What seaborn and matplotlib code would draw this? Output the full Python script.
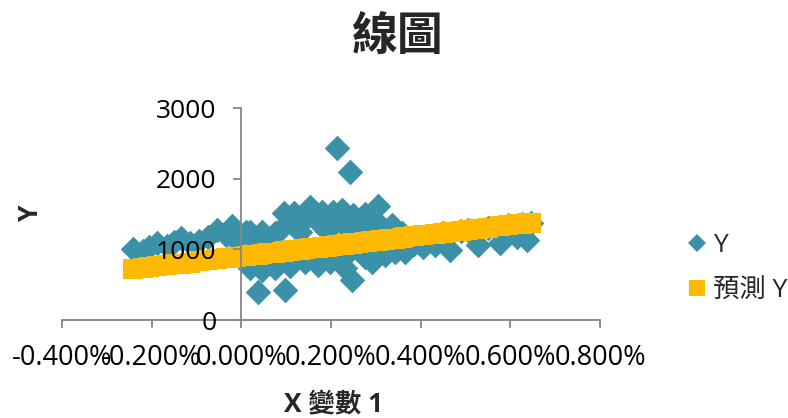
import matplotlib
matplotlib.use("Agg")
import matplotlib.pyplot as plt
import pandas as pd
import seaborn as sns
from matplotlib.lines import Line2D
from matplotlib.ticker import FixedLocator, PercentFormatter

# X variable 1 (in percent), observed Y and regression-predicted Y
x_pct = [
    -0.241, -0.220, -0.205, -0.187, -0.165, -0.150, -0.134, -0.115, -0.095, -0.075,
    -0.054, -0.035, -0.020, -0.011, 0.010, 0.011, 0.020, 0.020, 0.030, 0.038,
    0.047, 0.047, 0.060, 0.060, 0.074, 0.076, 0.090, 0.096, 0.098, 0.109,
    0.118, 0.120, 0.120, 0.130, 0.140, 0.143, 0.154, 0.170, 0.172, 0.180,
    0.181, 0.190, 0.198, 0.200, 0.205, 0.214, 0.221, 0.225, 0.230, 0.232,
    0.240, 0.243, 0.247, 0.250, 0.250, 0.260, 0.275, 0.276, 0.280, 0.290,
    0.292, 0.300, 0.305, 0.310, 0.321, 0.330, 0.337, 0.343, 0.359, 0.366,
    0.385, 0.406, 0.433, 0.450, 0.466, 0.490, 0.505, 0.528, 0.550, 0.577,
    0.595, 0.615, 0.625, 0.638, 0.645,
]
y_obs = [
    1004, 980, 1030, 1089, 1050, 1100, 1160, 1090, 1120, 1180,
    1273, 1200, 1329, 1131, 860, 1244, 1244, 735, 1130, 396,
    1244, 707, 1150, 820, 1230, 735, 1300, 1513, 424, 764,
    1513, 1350, 860, 1250, 1420, 820, 1598, 1380, 778, 900,
    1527, 1260, 820, 1400, 1527, 2430, 877, 1555, 1350, 735,
    960, 2090, 566, 1485, 1290, 1380, 1500, 891, 1300, 1450,
    820, 990, 1612, 1350, 919, 1250, 1343, 961, 1230, 961,
    1080, 1032, 1061, 1231, 990, 1260, 1271, 1061, 1304, 1089,
    1338, 1174, 1360, 1131, 1375,
]
y_pred = [
    720, 735, 747, 760, 776, 787, 799, 813, 828, 843,
    858, 872, 883, 890, 905, 906, 913, 913, 920, 926,
    933, 933, 942, 942, 953, 954, 965, 969, 970, 979,
    985, 987, 987, 994, 1001, 1004, 1012, 1024, 1025, 1031,
    1032, 1038, 1044, 1046, 1049, 1056, 1061, 1064, 1068, 1069,
    1075, 1078, 1081, 1083, 1083, 1090, 1101, 1102, 1105, 1112,
    1114, 1120, 1123, 1127, 1135, 1142, 1147, 1151, 1163, 1168,
    1183, 1198, 1218, 1231, 1242, 1260, 1271, 1288, 1304, 1324,
    1338, 1352, 1360, 1369, 1375,
]

x_ticks = [-0.4, -0.2, 0.0, 0.2, 0.4, 0.6, 0.8]
y_ticks = [0, 1000, 2000, 3000]

title = "線圖"
x_label = "X 變數 1"
y_label = "Y"
series_names = ["Y", "預測 Y"]

BLUE = "#3A91A8"
ORANGE = "#FFB900"
AXIS_GRAY = "#868686"

sns.set_theme(style="white")
plt.rcParams["font.family"] = ["Open Sans", "Noto Sans CJK TC", "DejaVu Sans"]
plt.rcParams["axes.unicode_minus"] = False

W, H = 788, 418
fig = plt.figure(figsize=(W / 100, H / 100), dpi=100)
ax = fig.add_axes([62 / W, 1 - 320 / H, (600 - 62) / W, (320 - 108) / H])

df = pd.DataFrame({"x": x_pct, "y": y_obs, "pred": y_pred})
sns.scatterplot(data=df, x="x", y="y", marker="D", s=170, color=BLUE,
                linewidth=0, ax=ax, zorder=1)
sns.scatterplot(data=df, x="x", y="pred", marker="s", s=200, color=ORANGE,
                linewidth=0, ax=ax, zorder=1.5)

ax.set_xlim(x_ticks[0], x_ticks[-1])
ax.set_ylim(y_ticks[0], y_ticks[-1])
ax.xaxis.set_major_locator(FixedLocator(x_ticks))
ax.yaxis.set_major_locator(FixedLocator(y_ticks))
ax.xaxis.set_major_formatter(PercentFormatter(xmax=100, decimals=3))
ax.set_xlabel("")
ax.set_ylabel("")
# tick labels sit on top of the markers
ax.set_axisbelow(False)

for side in ("top", "right"):
    ax.spines[side].set_visible(False)
ax.spines["left"].set_position(("data", 0))
for side in ("left", "bottom"):
    ax.spines[side].set_color(AXIS_GRAY)
    ax.spines[side].set_linewidth(1.3)

ax.tick_params(axis="x", direction="out", length=6, width=1.3, color=AXIS_GRAY,
               pad=11, labelsize=19.5, labelcolor="black", bottom=True)
ax.tick_params(axis="y", direction="out", length=6, width=1.3, color=AXIS_GRAY,
               pad=12, labelsize=19, labelcolor="black", left=True)

fig.text(398 / W, 1 - 37 / H, title, ha="center", va="center",
         fontsize=33, fontweight="bold")
fig.text(334 / W, 1 - 405 / H, x_label, ha="center", va="center",
         fontsize=19, fontweight="bold")
fig.text(31 / W, 1 - 213 / H, y_label, ha="center", va="center",
         fontsize=19, fontweight="bold", rotation=90)

handles = [
    Line2D([], [], marker="D", linestyle="", color=BLUE, markersize=9,
           markeredgewidth=0),
    Line2D([], [], marker="s", linestyle="", color=ORANGE, markersize=12,
           markeredgewidth=0),
]
fig.legend(handles, series_names, loc="center left",
           bbox_to_anchor=(688 / W, 1 - 268 / H), frameon=False, fontsize=19,
           handlelength=0.7, handletextpad=0.25, labelspacing=0.75,
           borderaxespad=0, borderpad=0)

fig.savefig("out.png", dpi=100)
